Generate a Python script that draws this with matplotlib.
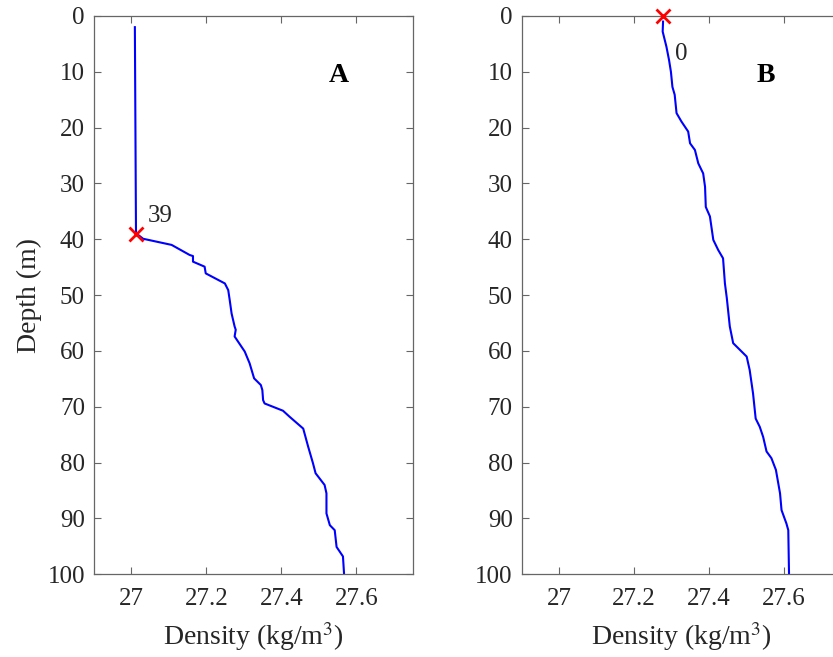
import matplotlib
matplotlib.use("Agg")
import matplotlib.pyplot as plt

plt.rcParams["font.family"] = ["Liberation Serif", "DejaVu Serif"]
plt.rcParams["mathtext.fontset"] = "stix"

# profile A (mixed layer depth 39 m)
depth_a = [2, 38.9, 39.9, 41.0, 42.8, 43.0, 44.0, 44.9, 46.1, 47.9, 49.1, 50.9, 53.3,
           55.6, 56.2, 57.4, 60.1, 62.2, 64.9, 66.1, 67.0, 68.8, 69.4, 70.7, 71.8,
           73.9, 77.1, 80.1, 81.9, 84.0, 85.5, 89.1, 91.2, 92.1, 95.1, 96.8, 100]
dens_a = [27.009, 27.012, 27.031, 27.107, 27.155, 27.164, 27.164, 27.195, 27.198,
          27.249, 27.258, 27.262, 27.267, 27.275, 27.278, 27.275, 27.302, 27.315,
          27.327, 27.345, 27.349, 27.351, 27.355, 27.404, 27.422, 27.458, 27.471,
          27.484, 27.491, 27.515, 27.520, 27.520, 27.529, 27.542, 27.547, 27.564, 27.567]
mld_a = 39
mld_dens_a = 27.012

# profile B (mixed layer depth 0 m)
depth_b = [1.0, 2.8, 5.5, 7.9, 10.0, 12.7, 14.1, 17.4, 18.9, 20.7, 22.8, 24.0, 26.4,
           28.2, 30.6, 34.2, 35.9, 40.1, 41.9, 43.4, 47.9, 50.5, 55.6, 58.6, 59.2,
           61.0, 63.4, 67.6, 72.1, 73.6, 75.4, 78.0, 79.2, 81.3, 85.5, 88.5, 90.9,
           92.1, 100]
dens_b = [27.277, 27.276, 27.286, 27.293, 27.298, 27.302, 27.308, 27.313, 27.326,
          27.344, 27.349, 27.362, 27.371, 27.384, 27.389, 27.391, 27.402, 27.411,
          27.424, 27.437, 27.442, 27.447, 27.455, 27.464, 27.473, 27.500, 27.508,
          27.517, 27.524, 27.535, 27.544, 27.553, 27.566, 27.578, 27.589, 27.593,
          27.606, 27.611, 27.613]
mld_b = 0
mld_dens_b = 27.277

xticks = [27, 27.2, 27.4, 27.6]
xticklabels = ["27", "27.2", "27.4", "27.6"]
yticks = list(range(0, 101, 10))

W, H = 833, 657
fig = plt.figure(figsize=(W / 100, H / 100), dpi=100)
ax_a = fig.add_axes([94 / W, (H - 574.3) / H, 318.7 / W, 558.3 / H])
ax_b = fig.add_axes([521.7 / W, (H - 574.3) / H, 318.7 / W, 558.3 / H])

spine_c = "#666666"
text_c = "#262626"


def style(ax):
    ax.set_xlim(26.9, 27.75)
    ax.set_ylim(100, 0)
    ax.set_xticks(xticks)
    ax.set_xticklabels(xticklabels)
    ax.set_yticks(yticks)
    ax.tick_params(axis="both", direction="in", length=5, width=0.8,
                   color=spine_c, labelcolor=text_c, labelsize=18,
                   top=True, right=True)
    ax.tick_params(axis="x", pad=10)
    ax.tick_params(axis="y", pad=6.5)
    for s in ax.spines.values():
        s.set_color(spine_c)
        s.set_linewidth(0.9)
    ax.set_xlabel("Density (kg/m$^3$)", fontsize=20, color=text_c, labelpad=7)


for ax, d, x, md, mx, lbl, panel, lpos in [
        (ax_a, depth_a, dens_a, mld_a, mld_dens_a, "39", "A", (27.044, 36.9)),
        (ax_b, depth_b, dens_b, mld_b, mld_dens_b, "0", "B", (27.308, 7.9))]:
    style(ax)
    ax.plot(x, d, color="#0000ff", lw=1.5)
    ax.plot([mx], [md], "x", color="#ff0000", ms=10, mew=2, clip_on=False, zorder=5)
    ax.text(lpos[0], lpos[1], lbl, fontsize=18, color=text_c, ha="left", va="baseline")
    ax.text(27.527, 11.8, panel, fontsize=20, fontweight="bold", color="black",
            ha="left", va="baseline")

ax_a.set_ylabel("Depth (m)", fontsize=20, color=text_c, labelpad=4)

fig.savefig("out.png", dpi=100)
